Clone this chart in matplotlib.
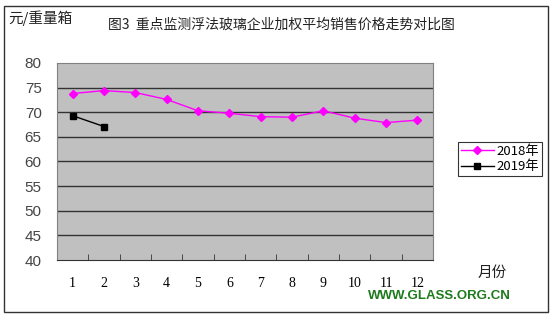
import matplotlib.pyplot as plt
from matplotlib.patches import Rectangle

plt.rcParams['font.family'] = ['Noto Sans CJK SC', 'DejaVu Sans']

months = list(range(1, 13))
month_labels = [str(m) for m in months]
price_2018 = [73.8, 74.4, 74.0, 72.6, 70.3, 69.8, 69.1, 69.0, 70.3, 68.8, 67.9, 68.4]
months_2019 = [1, 2]
price_2019 = [69.3, 67.1]
y_ticks = [40, 45, 50, 55, 60, 65, 70, 75, 80]

fig = plt.figure(figsize=(5.52, 3.17), dpi=100)
W, H = 552, 317

# outer frame
fig.patches.append(Rectangle((4 / W, 5 / H), 544 / W, 306 / H, transform=fig.transFigure,
                             fill=False, edgecolor='#333333', linewidth=1))

ax = fig.add_axes([57 / W, 1 - 260 / H, 376 / W, 197 / H])
ax.set_facecolor('#C0C0C0')
ax.set_xlim(0.5, 12.5)
ax.set_ylim(40, 80)

for y in y_ticks[1:-1]:
    ax.axhline(y, color='#333333', linewidth=1, zorder=1)

ax.plot(months, price_2018, color='#FF00FF', linewidth=1, marker='D', markersize=4,
        label='2018年', zorder=3)
ax.plot(months_2019, price_2019, color='black', linewidth=1, marker='s', markersize=4.5,
        label='2019年', zorder=3)

ax.set_yticks(y_ticks)
ax.set_yticklabels([str(v) for v in y_ticks], fontsize=11, color='#444444',
                   family=['Liberation Sans', 'DejaVu Sans'])
ax.tick_params(axis='y', length=0, pad=11)

ax.set_xticks(months)
ax.set_xticklabels(month_labels, fontsize=10, family=['Liberation Serif', 'DejaVu Serif'])
ax.set_xticks([m + 0.5 for m in months[:-1]], minor=True)
ax.tick_params(axis='x', which='major', length=0, pad=12)
ax.tick_params(axis='x', which='minor', direction='in', length=4, color='#333333')

for s in ['top', 'right', 'left']:
    ax.spines[s].set_color('#808080')
ax.spines['bottom'].set_color('#333333')

fig.text(8 / W, 1 - 18 / H, '元/重量箱', fontsize=10.5, va='center', ha='left', color='#222222')
fig.text(108 / W, 1 - 25 / H, '图3  重点监测浮法玻璃企业加权平均销售价格走势对比图', fontsize=10,
         va='center', ha='left', color='#222222')
fig.text(478 / W, 1 - 273 / H, '月份', fontsize=10.5, va='center', ha='left', color='#222222')
fig.text(511 / W, 1 - 296 / H, 'WWW.GLASS.ORG.CN', fontsize=9.5, fontweight='heavy',
         va='center', ha='right', color='#1E7B1E', family=['Liberation Sans', 'DejaVu Sans'])

leg = fig.legend(loc='upper left', bbox_to_anchor=(458 / W, 1 - 142 / H), fontsize=9.5,
                 frameon=True, fancybox=False, edgecolor='black', borderpad=0.2,
                 handlelength=2.5, handletextpad=0.2, labelspacing=0.2, borderaxespad=0)
leg.get_frame().set_linewidth(0.8)

fig.savefig('out.png', dpi=100)
